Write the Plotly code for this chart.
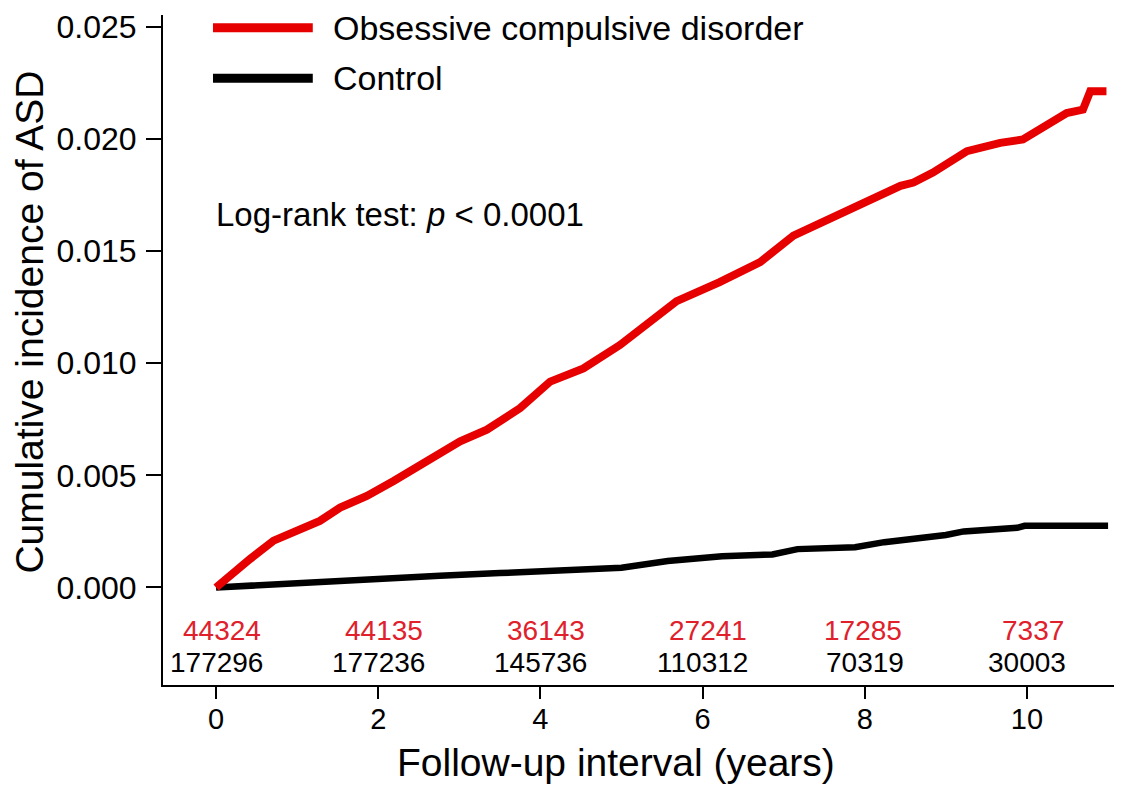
import plotly.graph_objects as go

# ---- data ----
ocd_t = [0.0, 0.21, 0.42, 0.71, 1.04, 1.28, 1.53, 1.86, 2.19, 2.68, 3.01, 3.34, 3.75, 4.12,
         4.53, 4.98, 5.31, 5.68, 6.21, 6.71, 7.12, 7.69, 8.10, 8.44, 8.60, 8.84, 9.26, 9.67,
         9.95, 10.24, 10.49, 10.69, 10.78, 10.98]
ocd_v = [0.0, 0.00068, 0.00127, 0.00209, 0.00260, 0.00297, 0.00356, 0.00408, 0.00475, 0.00578,
         0.00652, 0.00704, 0.00800, 0.00918, 0.00977, 0.01081, 0.01170, 0.01277, 0.01362, 0.01451,
         0.01569, 0.01665, 0.01732, 0.01791, 0.01806, 0.01850, 0.01946, 0.01983, 0.01998, 0.02064,
         0.02116, 0.02131, 0.02213, 0.02213]

ctrl_t = [0.0, 1.04, 2.06, 2.76, 3.5, 4.2, 5.0, 5.57, 6.24, 6.86, 7.17, 7.88, 8.24, 9.0, 9.22,
          9.88, 9.97, 11.0]
ctrl_v = [0.0, 0.00022, 0.00039, 0.00052, 0.00064, 0.00075, 0.00088, 0.00118, 0.00139, 0.00147,
          0.00171, 0.00179, 0.00202, 0.00234, 0.00250, 0.00266, 0.00275, 0.00275]

risk_years = [0, 2, 4, 6, 8, 10]
risk_ocd = ["44324", "44135", "36143", "27241", "17285", "7337"]
risk_ctrl = ["177296", "177236", "145736", "110312", "70319", "30003"]

series_names = ["Obsessive compulsive disorder", "Control"]
y_ticks = [0.0, 0.005, 0.010, 0.015, 0.020, 0.025]
x_ticks = [0, 2, 4, 6, 8, 10]

RED = "#E60000"
RED_TXT = "#E0202B"
FONT = "Liberation Sans, Arial, sans-serif"
NUM_SIZE = 28

fig = go.Figure()
fig.add_trace(go.Scatter(x=ctrl_t, y=ctrl_v, mode="lines", name=series_names[1],
                         line=dict(color="black", width=6.5), showlegend=False))
fig.add_trace(go.Scatter(x=ocd_t, y=ocd_v, mode="lines", name=series_names[0],
                         line=dict(color=RED, width=8), showlegend=False))

annotations = []
# numbers at risk
for yr, a, b in zip(risk_years, risk_ocd, risk_ctrl):
    half_w = len(b) * 0.556 * NUM_SIZE / 2
    annotations.append(dict(x=yr, y=-0.00333, xref="x", yref="y", text=b, showarrow=False,
                            xanchor="center", yanchor="middle",
                            font=dict(family=FONT, size=NUM_SIZE, color="black")))
    annotations.append(dict(x=yr, y=-0.00191, xref="x", yref="y", text=a, showarrow=False,
                            xanchor="right", yanchor="middle", xshift=half_w,
                            font=dict(family=FONT, size=NUM_SIZE, color=RED_TXT)))

# manual legend
leg_y = [0.981, 0.9055]
leg_col = [RED, "black"]
shapes = []
for name, yy, col in zip(series_names, leg_y, leg_col):
    shapes.append(dict(type="line", xref="paper", yref="paper", x0=0.0524, x1=0.157, y0=yy, y1=yy,
                       line=dict(color=col, width=9)))
    annotations.append(dict(x=0.176, y=yy, xref="paper", yref="paper", text=name, showarrow=False,
                            xanchor="left", yanchor="middle",
                            font=dict(family=FONT, size=34, color="black")))

annotations.append(dict(x=0.0535, y=0.702, xref="paper", yref="paper",
                        text="Log-rank test: <i>p</i> &lt; 0.0001", showarrow=False,
                        xanchor="left", yanchor="middle",
                        font=dict(family=FONT, size=33, color="black")))

# axis titles
annotations.append(dict(x=0.4748, y=-0.1164, xref="paper", yref="paper",
                        text="Follow-up interval (years)", showarrow=False,
                        xanchor="center", yanchor="middle",
                        font=dict(family=FONT, size=39, color="black")))
annotations.append(dict(x=-0.1395, y=0.5423, xref="paper", yref="paper",
                        text="Cumulative incidence of ASD", showarrow=False, textangle=-90,
                        xanchor="center", yanchor="middle",
                        font=dict(family=FONT, size=39, color="black")))

fig.update_layout(
    width=1114, height=778,
    margin=dict(l=155, r=5, t=7, b=101, autoexpand=False),
    paper_bgcolor="white", plot_bgcolor="white",
    font=dict(family=FONT, color="black"),
    annotations=annotations, shapes=shapes,
    showlegend=False,
)
fig.update_xaxes(range=[-0.654, 11.11], tickvals=x_ticks, ticktext=[str(v) for v in x_ticks],
                 showline=True, linecolor="black", linewidth=2, ticks="outside", ticklen=12,
                 tickwidth=2, tickcolor="black", showgrid=False, zeroline=False,
                 tickfont=dict(family=FONT, size=29), ticklabelstandoff=-5)
fig.update_yaxes(range=[-0.00435, 0.02553], tickvals=y_ticks, tickformat=".3f",
                 showline=True, linecolor="black", linewidth=2, ticks="outside", ticklen=15,
                 tickwidth=2, tickcolor="black", showgrid=False, zeroline=False,
                 tickfont=dict(family=FONT, size=32), ticklabelstandoff=3,
                 ticklabeloverflow="allow")

fig.write_html("out.html")
